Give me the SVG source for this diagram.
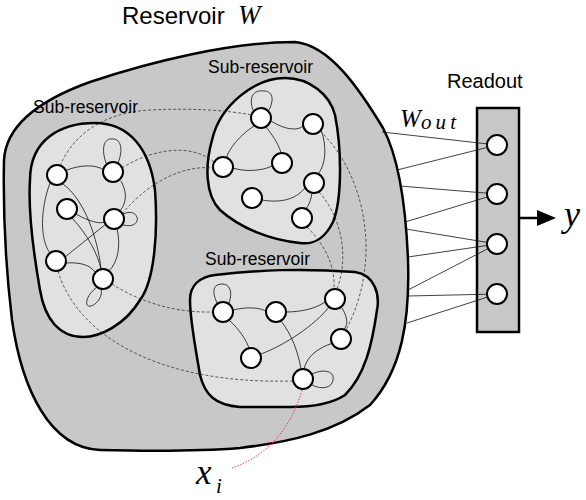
<svg xmlns="http://www.w3.org/2000/svg" width="586" height="500" viewBox="0 0 586 500">
<style>
.region{stroke:#000;stroke-width:2.5;stroke-linejoin:round}
.outer{fill:#c8c8c8}
.sub{fill:#e1e1e1}
.e{fill:none;stroke:#111;stroke-width:0.8}
.d{fill:none;stroke:#222;stroke-width:0.7;stroke-dasharray:3 2}
.r{fill:none;stroke:#111;stroke-width:0.8}
.n{fill:#fff;stroke:#000;stroke-width:2}
.sans{font-family:"Liberation Sans",Arial,sans-serif;fill:#000}
.math{font-family:"Liberation Serif","Times New Roman",serif;font-style:italic;fill:#000}
</style>
<rect width="586" height="500" fill="#fff"/>
<g id="reservoir">
<path class="region outer" d="M 4,160 C 6,125 40,100 90,82 C 150,62 230,42 295,42 C 330,45 360,90 383,128 C 400,160 406,210 408,260 C 410,320 402,370 370,405 C 335,432 290,442 240,448 C 190,452 140,451 100,450 C 50,448 22,390 12,320 C 6,270 3,210 4,160 Z"/>
</g>
<g id="sub-left">
<path class="region sub" d="M 30,180 C 30,140 60,123 95,123 C 130,123 150,150 155,190 C 158,230 155,280 140,300 C 125,325 100,337 83,337 C 60,337 45,320 40,290 C 33,250 28,210 30,180 Z"/>
</g>
<g id="sub-top">
<path class="region sub" d="M 285,78 C 310,78 330,95 335,115 C 342,150 342,200 333,222 C 325,238 315,245 300,243 C 270,240 240,228 220,210 C 205,195 205,165 212,140 C 220,105 255,78 285,78 Z"/>
</g>
<g id="sub-bottom">
<path class="region sub" d="M 215,275 C 260,270 300,268 355,272 C 375,275 380,295 377,310 C 372,345 365,375 345,395 C 330,405 310,407 290,407 L 240,407 C 215,405 205,395 200,375 C 195,345 190,320 190,300 C 190,285 200,277 215,275 Z"/>
</g>
<g id="readout">
<rect x="477" y="108" width="42" height="224" fill="#c8c8c8" stroke="#000" stroke-width="2.5"/>
</g>
<g id="connectors">
<path class="e" d="M 67,170 C 80,165 95,164 104,170"/>
<path class="e" d="M 50,183 C 40,210 40,240 50,253"/>
<path class="e" d="M 63,184 C 85,200 98,240 101,269"/>
<path class="e" d="M 106,163 C 100,145 106,138 112,139 C 120,138 124,148 118,163"/>
<path class="e" d="M 121,181 C 127,192 127,202 120,211"/>
<path class="e" d="M 76,214 C 90,222 100,224 105,222"/>
<path class="e" d="M 72,218 C 88,235 98,255 101,269"/>
<path class="e" d="M 123,214 C 140,206 144,230 123,225"/>
<path class="e" d="M 106,224 L 65,257"/>
<path class="e" d="M 117,229 C 121,245 118,262 109,271"/>
<path class="e" d="M 66,263 C 80,262 90,265 95,272"/>
<path class="e" d="M 97,287 C 85,296 84,308 91,306 C 98,304 103,295 101,289"/>
<path class="e" d="M 253,110 C 248,96 255,90 262,91 C 270,90 276,96 269,110"/>
<path class="e" d="M 271,121 C 285,130 298,131 303,126"/>
<path class="e" d="M 254,126 C 240,135 228,150 227,157"/>
<path class="e" d="M 266,127 C 275,138 280,148 281,153"/>
<path class="e" d="M 233,168 C 245,172 262,171 272,166"/>
<path class="e" d="M 321,130 C 327,145 326,165 318,174"/>
<path class="e" d="M 305,188 C 295,200 280,203 262,200"/>
<path class="e" d="M 312,193 C 311,200 309,205 306,209"/>
<path class="e" d="M 217,303 C 211,290 214,284 222,284 C 230,284 233,292 229,303"/>
<path class="e" d="M 233,310 C 245,307 258,307 266,311"/>
<path class="e" d="M 229,320 C 240,330 246,340 249,348"/>
<path class="e" d="M 286,312 C 300,312 315,309 325,302"/>
<path class="e" d="M 281,321 C 292,335 298,352 301,369"/>
<path class="e" d="M 261,354 C 285,345 315,325 329,307"/>
<path class="e" d="M 342,308 C 348,318 348,325 344,329"/>
<path class="e" d="M 333,343 C 318,348 307,356 304,369"/>
<path class="e" d="M 312,374 C 325,368 335,372 333,380 C 332,388 322,390 312,385"/>
<path class="d" d="M 60,166 C 75,130 110,112 150,110 C 190,108 225,110 252,115"/>
<path class="d" d="M 122,168 C 150,150 190,142 214,162"/>
<path class="d" d="M 122,214 C 150,180 185,165 213,168"/>
<path class="d" d="M 112,284 C 140,302 175,313 213,312"/>
<path class="d" d="M 58,271 C 75,330 150,385 293,381"/>
<path class="d" d="M 320,131 C 362,170 385,255 346,330"/>
<path class="d" d="M 319,192 C 340,215 350,255 337,289"/>
<path class="d" d="M 307,227 C 325,245 335,265 334,289"/>
<path class="r" d="M 382,132 L 497,145"/>
<path class="r" d="M 397,170 L 497,145"/>
<path class="r" d="M 400,186 L 497,194"/>
<path class="r" d="M 405,222 L 497,194"/>
<path class="r" d="M 406,229 L 497,244"/>
<path class="r" d="M 408,257 L 497,244"/>
<path class="r" d="M 408,290 L 497,244"/>
<path class="r" d="M 408,296 L 497,294"/>
<path class="r" d="M 407,323 L 497,294"/>
<path d="M 302,390 C 292,425 270,455 232,468" fill="none" stroke="#f03c3c" stroke-width="1" stroke-dasharray="1.5 1.5"/>
<line x1="519" y1="218" x2="540" y2="218" stroke="#000" stroke-width="2.5"/>
<polygon points="537,210 556,218 537,226" fill="#000"/>
</g>
<g id="n-l1"><circle class="n" cx="57" cy="175" r="10"/></g>
<g id="n-l2"><circle class="n" cx="113" cy="172" r="10"/></g>
<g id="n-l3"><circle class="n" cx="67" cy="209" r="10"/></g>
<g id="n-l4"><circle class="n" cx="114" cy="219" r="10"/></g>
<g id="n-l5"><circle class="n" cx="56" cy="261" r="10"/></g>
<g id="n-l6"><circle class="n" cx="103" cy="279" r="10"/></g>
<g id="n-t1"><circle class="n" cx="261" cy="118" r="10"/></g>
<g id="n-t2"><circle class="n" cx="313" cy="124" r="10"/></g>
<g id="n-t3"><circle class="n" cx="223" cy="167" r="10"/></g>
<g id="n-t4"><circle class="n" cx="282" cy="163" r="10"/></g>
<g id="n-t5"><circle class="n" cx="314" cy="183" r="10"/></g>
<g id="n-t6"><circle class="n" cx="252" cy="198" r="10"/></g>
<g id="n-t7"><circle class="n" cx="302" cy="218" r="10"/></g>
<g id="n-b1"><circle class="n" cx="223" cy="312" r="10"/></g>
<g id="n-b2"><circle class="n" cx="276" cy="312" r="10"/></g>
<g id="n-b3"><circle class="n" cx="335" cy="299" r="10"/></g>
<g id="n-b4"><circle class="n" cx="341" cy="339" r="10"/></g>
<g id="n-b5"><circle class="n" cx="251" cy="358" r="10"/></g>
<g id="n-b6"><circle class="n" cx="303" cy="379" r="10"/></g>
<g id="n-r1"><circle class="n" cx="497" cy="145" r="10"/></g>
<g id="n-r2"><circle class="n" cx="497" cy="194" r="10"/></g>
<g id="n-r3"><circle class="n" cx="497" cy="244" r="10"/></g>
<g id="n-r4"><circle class="n" cx="497" cy="294" r="10"/></g>
<g id="labels">
<text class="sans" x="122" y="24" font-size="24">Reservoir</text>
<text class="math" x="238" y="24" font-size="27">W</text>
<text class="sans" x="33" y="113" font-size="17.5">Sub-reservoir</text>
<text class="sans" x="208" y="73" font-size="17.5">Sub-reservoir</text>
<text class="sans" x="205" y="265" font-size="17.5">Sub-reservoir</text>
<text class="sans" x="447" y="88" font-size="20">Readout</text>
<text class="math" x="400" y="127" font-size="25">W</text>
<text class="math" x="421" y="129" font-size="21" textLength="35" lengthAdjust="spacing">out</text>
<text class="math" x="564" y="226" font-size="36">y</text>
<text class="math" x="196" y="484" font-size="35">x</text>
<text class="math" x="216" y="493" font-size="21">i</text>
</g>
</svg>
